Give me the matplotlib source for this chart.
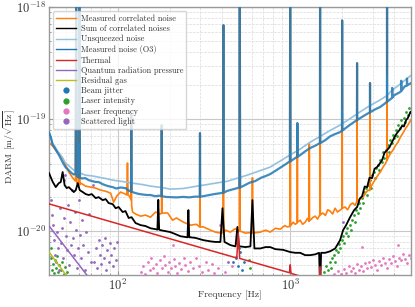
import numpy as np
import matplotlib
matplotlib.use("Agg")
import matplotlib.pyplot as plt
from matplotlib.lines import Line2D

plt.rcParams['font.family'] = 'serif'
plt.rcParams['font.serif'] = ['cmr10']
plt.rcParams['mathtext.fontset'] = 'cm'
plt.rcParams['axes.formatter.use_mathtext'] = True

scale = 1e-20  # all ASD values below are in units of 1e-20 m/sqrt(Hz)

# Measured correlated noise (orange)
corr_f = [40, 42.1, 43.8, 45.6, 48.0, 50, 52.1, 55, 57.0, 57.5, 58.0, 59.5, 60, 60.5, 61.1, 65.3,
          69.8, 74.6, 79.8, 85.2, 91.1, 94.8, 98.7, 104, 111, 113, 114, 115, 117, 119.5, 120,
          120.5, 122, 127, 136, 145, 155, 166, 177, 179.5, 180, 180.5, 195, 208, 219, 241, 264,
          286, 299, 300, 301, 314, 345, 368, 394, 408, 410, 412, 421, 450, 480, 500, 507, 510,
          513, 550, 600, 604, 608, 672, 720, 766, 820, 876, 930, 960, 995, 1000, 1005, 1040,
          1069, 1097, 1100, 1103, 1142, 1180, 1220, 1260, 1287, 1290, 1293, 1305, 1350, 1395,
          1440, 1485, 1490, 1495, 1545, 1600, 1650, 1703, 1760, 1820, 1880, 1945, 1995, 2000,
          2005, 2080, 2150, 2230, 2300, 2380, 2435, 2440, 2445, 2472, 2560, 2643, 2740, 2825,
          2895, 2900, 2905, 2960, 3020, 3120, 3225, 3340, 3448, 3560, 3635, 3640, 3645, 3684,
          3800, 3938, 4070, 4208, 4350, 4500, 4650, 4806, 5000]
corr = [6.2, 5.74, 5.28, 4.97, 4.49, 3.88, 3.37, 2.97, 2.8, 150, 2.7, 2.57, 150, 2.6, 2.68, 2.52,
        2.47, 2.42, 2.32, 2.27, 2.18, 1.81, 2.05, 2.23, 2.14, 2.1, 4.05, 2.1, 2.05, 1.9, 11,
        1.7, 1.48, 1.42, 1.36, 1.39, 1.33, 1.48, 1.42, 1.45, 8.8, 1.45, 1.45, 1.25, 1.31, 1.20,
        1.13, 1.15, 1.09, 7.5, 1.09, 1.09, 1.02, 0.98, 0.96, 0.97, 69, 0.97, 1.02, 0.98, 1.05,
        1.02, 1.0, 150, 1.0, 0.96, 0.97, 3.0, 0.96, 0.98, 1.02, 0.98, 1.06, 1.04, 1.12, 1.09,
        1.1, 150, 1.12, 1.2, 1.15, 1.18, 9.2, 1.2, 1.25, 1.15, 1.20, 1.3, 1.22, 6.0, 1.25,
        1.25, 1.32, 1.36, 1.28, 1.4, 150, 1.4, 1.45, 1.38, 1.55, 1.51, 1.42, 1.6, 1.48, 1.54,
        1.58, 76, 1.6, 1.64, 1.55, 1.72, 1.78, 1.7, 1.85, 31.6, 1.85, 1.89, 1.95, 2.01, 2.2,
        2.32, 2.3, 21, 2.4, 2.55, 2.68, 2.9, 3.16, 3.4, 3.73, 4.0, 4.3, 150, 4.3, 4.49, 4.9,
        5.28, 5.8, 6.22, 6.9, 7.5, 8.2, 8.84, 9.8]

# Sum of correlated noises (black)
sum_f = [40, 42.1, 43.8, 45.6, 46.8, 48.0, 49.3, 50.7, 52.1, 54.3, 55.7, 57.2, 58.7, 60.3, 62.8,
         65.3, 68.0, 70.8, 74.6, 77.6, 81.9, 85.2, 88.7, 93.6, 97.4, 101.3, 106.9, 111, 115.8,
         120.5, 127, 136, 145, 155, 166, 170, 172, 174, 177, 189, 202, 216, 231, 254, 257, 260,
         264, 282, 314, 345, 368, 394, 405, 416, 450, 482, 494, 505, 514, 550, 588, 604, 620,
         672, 718, 766, 819, 910, 1000, 1069, 1142, 1220, 1305, 1395, 1470, 1490, 1510, 1594,
         1703, 1822, 1945, 2025, 2108, 2222, 2346, 2442, 2530, 2610, 2700, 2790, 2880, 2981,
         3080, 3185, 3300, 3404, 3520, 3637, 3760, 3887, 4020, 4155, 4300, 4440, 4560, 4692,
         4800, 4940, 5000]
sum_corr = [3.3, 2.74, 2.47, 2.68, 2.74, 3.37, 2.57, 2.42, 2.47, 2.32, 2.23, 2.32, 2.68, 2.32,
            2.23, 2.14, 2.10, 2.14, 1.97, 2.01, 1.89, 1.93, 1.78, 1.74, 1.60, 1.64, 1.48, 1.51,
            1.31, 1.33, 1.18, 1.13, 1.11, 1.06, 1.04, 1.03, 1.9, 1.03, 1.02, 1.0, 0.98, 0.94, 0.90,
            0.88, 1.54, 0.88, 0.88, 0.87, 0.83, 0.81, 0.80, 0.80, 1.60, 0.80, 0.75, 0.73, 1.09,
            0.73, 0.73, 0.72, 0.73, 1.89, 0.70, 0.70, 0.72, 0.72, 0.69, 0.68, 0.65, 0.64, 0.64,
            0.61, 0.61, 0.62, 0.64, 0.30, 0.64, 0.64, 0.66, 0.70, 0.83, 1.02, 1.13, 1.33, 1.54,
            1.64, 1.95, 2.05, 2.5, 2.47, 3.0, 2.97, 3.6, 3.73, 4.0, 4.3, 5.0, 5.28, 5.6, 6.22, 6.9,
            7.5, 8.0, 8.66, 8.6, 9.79, 10.2, 11.3, 11.6]

# Unsqueezed noise (light blue)
unsq_f = [40, 42, 45.6, 50, 55.7, 59.5, 60, 60.5, 65, 72, 77.6, 85, 93.6, 105, 119.5, 120, 120.5,
          122, 140, 155, 180, 202, 240, 280, 299, 300, 301, 314, 380, 430, 494, 560, 628, 700,
          766, 870, 1000, 1097, 1100, 1103, 1142, 1300, 1490, 1700, 1945, 1995, 2000, 2005, 2200,
          2540, 2900, 3313, 3635, 3640, 3645, 3800, 4326, 5000]
unsq = [7.6, 6.1, 5.0, 4.05, 3.5, 3.3, 6.0, 3.3, 3.16, 3.1, 3.03, 2.95, 2.85, 2.78, 2.7, 4.0, 2.7,
        2.68, 2.6, 2.52, 2.45, 2.37, 2.4, 2.5, 2.55, 3.0, 2.55, 2.57, 2.7, 2.78, 2.97, 3.15, 3.35,
        3.55, 3.73, 4.2, 4.8, 5.2, 9.2, 5.2, 5.4, 6.2, 7.0, 7.9, 8.84, 9.1, 12, 9.1, 10.0, 11.6,
        13.2, 14.8, 16.2, 25, 16.2, 17.5, 20.5, 24.5]

# Measured noise (O3) (blue)
meas_f = [40, 41, 42, 43, 44.5, 45.6, 47, 48.5, 50, 52, 54, 55.7, 57, 57.5, 58, 59.5, 60, 60.5,
          62, 65, 68, 71, 74, 77.6, 82, 86, 90, 93.6, 98, 104, 111, 116, 119.5, 120, 120.5, 125,
          132, 140, 148, 155, 165, 175, 179.5, 180, 180.5, 190, 202, 220, 240, 260, 280, 299,
          300, 301, 314, 340, 370, 394, 408, 410, 412, 430, 460, 494, 507, 510, 513, 540, 580,
          628, 680, 720, 766, 820, 880, 940, 995, 1000, 1005, 1060, 1097, 1100, 1103, 1142, 1220,
          1300, 1400, 1485, 1490, 1495, 1600, 1700, 1800, 1945, 1995, 2000, 2005, 2200, 2435,
          2440, 2445, 2540, 2700, 2895, 2900, 2905, 3100, 3313, 3500, 3635, 3640, 3645, 3800,
          3895, 3900, 3905, 4000, 4326, 4395, 4400, 4405, 4600, 4745, 4750, 4755, 5000]
meas = [7.6, 6.9, 5.9, 5.6, 5.1, 4.8, 4.4, 4.0, 3.7, 3.5, 3.3, 3.2, 3.25, 150, 3.1, 3.0, 150, 3.0,
        2.95, 2.97, 2.85, 2.8, 2.75, 2.74, 2.62, 2.55, 2.5, 2.47, 2.4, 2.45, 2.42, 2.3, 2.25, 11,
        2.25, 2.2, 2.15, 2.12, 2.1, 2.10, 2.05, 2.07, 2.05, 8.8, 2.05, 2.02, 2.01, 2.0, 2.02,
        2.0, 2.03, 2.03, 7.5, 2.03, 2.05, 2.1, 2.15, 2.18, 2.2, 69, 2.2, 2.28, 2.35, 2.42, 2.45,
        150, 2.45, 2.55, 2.7, 2.8, 3.0, 3.1, 3.23, 3.45, 3.7, 3.95, 4.2, 150, 4.2, 4.45, 4.6,
        9.2, 4.6, 4.77, 5.15, 5.5, 5.8, 6.1, 150, 6.1, 6.5, 7.0, 7.3, 7.65, 7.9, 76, 7.9, 8.8,
        9.8, 31.6, 9.8, 10.2, 10.8, 11.5, 21, 11.5, 12.2, 12.8, 13.6, 14.3, 150, 14.3, 15.0,
        15.5, 19, 15.5, 16.3, 17.4, 17.8, 22, 17.8, 19.5, 20.0, 23, 20.0, 20.9]

# Thermal (red)
therm_f = [40, 490, 500, 510, 990, 1000, 1010, 1480, 1490, 1500, 5000]
therm = [1.75, 0.575, 0.96, 0.57, 0.425, 0.50, 0.42, 0.35, 0.48, 0.35, 0.205]

# Quantum radiation pressure (purple) and residual gas (olive)
qrp_f = [40, 100]
qrp = [1.114, 0.178]
gas_f = [40, 60]
gas = [0.652, 0.279]

# Beam jitter points
jit_f = [468, 486, 500, 514, 528, 494, 543, 507]
jit = [0.53, 0.57, 0.49, 0.65, 0.45, 0.78, 0.53, 0.71]

# Laser intensity points
int_f = [41.0, 41.6, 42.1, 42.7, 43.3, 43.8, 44.4, 45.0, 45.6, 46.8, 47.4, 48.7, 49.3, 50.7, 41.0,
         580, 588,
         1573, 1615, 1660, 1703, 1726, 1750, 1796, 1820, 1845, 1894, 1920, 1945, 1998, 2025, 2052,
         2108, 2135, 2163, 2222, 2252, 2282, 2344, 2376, 2408, 2472, 2506, 2540, 2608, 2643, 2679,
         2750, 2787, 2825, 2900, 2940, 2980, 3060, 3100, 3140, 3225, 3270, 3313, 3403, 3448, 3493,
         3589, 3684, 3733, 3783, 3886, 3938, 3990, 4098, 4150, 4208, 4322, 4380, 4437, 4558, 4620,
         4684, 4806, 4870, 4940]
intensity = [0.57, 0.45, 0.51, 0.42, 0.55, 0.47, 0.60, 0.43, 0.50, 0.45, 0.53, 0.41, 0.48, 0.43,
             0.71, 0.55, 0.47,
             0.43, 0.49, 0.45, 0.53, 0.47, 0.57, 0.61, 0.53, 0.68, 0.65, 0.76, 0.71, 0.83, 0.90,
             0.78, 0.96, 1.06, 0.90, 1.13, 1.02, 1.25, 1.39, 1.20, 1.54, 1.45, 1.78, 1.60, 1.97,
             1.78, 2.23, 2.42, 2.10, 2.57, 2.85, 2.42, 3.16, 3.37, 2.97, 3.65, 3.88, 3.50, 4.30,
             4.13, 5.07, 4.49, 5.28, 5.86, 5.07, 6.5, 6.1, 7.2, 6.77, 8.0, 7.05, 8.8, 8.3, 9.8,
             8.8, 10.2, 9.4, 11.55, 10.9, 12.5, 11.55]

# Laser frequency points
freq_f = [136, 141, 145, 149, 153, 157, 161, 166, 170, 175, 180, 185, 189, 195, 199, 205, 211, 216,
          222, 228, 234, 241, 247, 257, 264, 275, 286, 298, 310, 323, 336, 350, 363, 208, 394, 383,
          420, 462,
          1796, 1894, 1970, 2052, 2108, 2192, 2252, 2313, 2376, 2440, 2506, 2574, 2643, 2714, 2787,
          2862, 2940, 3020, 3100, 3185, 3270, 3358, 3448, 3541, 3637, 3733, 3836, 3938, 4045, 4150,
          4265, 4380, 4500, 4620, 4745, 4870, 5000, 2608, 4208]
freq_noise = [0.43, 0.49, 0.41, 0.53, 0.45, 0.57, 0.47, 0.51, 0.42, 0.55, 0.47, 0.60, 0.50, 0.43,
              0.53, 0.47, 0.56, 0.49, 0.42, 0.52, 0.46, 0.57, 0.50, 0.44, 0.53, 0.47, 0.57, 0.49,
              0.43, 0.53, 0.45, 0.51, 0.42, 0.75, 1.13, 0.47, 0.43, 0.49,
              0.41, 0.44, 0.41, 0.46, 0.42, 0.49, 0.44, 0.47, 0.42, 0.51, 0.45, 0.49, 0.44, 0.52,
              0.47, 0.53, 0.48, 0.55, 0.50, 0.45, 0.54, 0.50, 0.57, 0.52, 0.47, 0.56, 0.52, 0.60,
              0.54, 0.49, 0.58, 0.55, 0.62, 0.56, 0.52, 0.61, 0.57, 0.72, 0.75]

# Scattered light points
scat_f = [41.0, 41.6, 42.1, 42.7, 43.3, 43.8, 44.4, 45.0, 45.6, 46.2, 46.8, 47.4, 48.0, 48.7, 48.7,
          49.3, 50.0, 50.7, 51.3, 52.1, 52.8, 53.5, 54.3, 55.0, 55.7, 56.5, 57.2, 58.0, 58.7, 59.5,
          60.3, 61.1, 62.0, 62.8, 64.5, 65.3, 67.2, 68.0, 69.8, 71.7,
          72.6, 74.6, 75.6, 77.6, 78.7, 79.8, 80.8, 83.0, 84.1, 85.2, 86.4, 88.7, 89.9, 91.1, 93.6,
          94.8, 97.4, 98.7, 2025, 482, 437]
scat = [1.89, 1.39, 1.13, 0.83, 0.61, 0.53, 0.98, 0.71, 0.45, 1.60, 0.78, 1.06, 0.57, 2.85, 1.31,
        3.16, 0.90, 0.68, 1.71, 0.50, 1.21, 0.75, 2.32, 0.87, 0.61, 1.48, 1.02, 0.47, 0.71, 1.89,
        0.92, 0.57, 1.25, 0.75, 0.45, 0.98, 0.65, 1.43, 0.53, 2.57,
        0.53, 0.71, 0.47, 0.83, 0.61, 0.51, 0.75, 0.57, 0.87, 0.45, 0.68, 0.53, 0.78, 0.61, 0.49,
        0.71, 0.55, 0.80, 1.2, 0.59, 0.53]

fig = plt.figure(figsize=(4.15, 3.07), dpi=100)
ax = fig.add_axes([0.118, 0.104, 0.872, 0.873])

def asd(v):
    return np.array(v) * scale

ms = 4
ax.scatter(jit_f, asd(jit), s=ms, color='#1f77b4', lw=0, zorder=1)
ax.scatter(int_f, asd(intensity), s=ms, color='#2ca02c', lw=0, zorder=1)
ax.scatter(freq_f, asd(freq_noise), s=ms, color='#e377c2', lw=0, zorder=1)
ax.scatter(scat_f, asd(scat), s=ms, color='#9467bd', lw=0, zorder=1)

ax.plot(corr_f, asd(corr), color='#ff7f0e', lw=1.2, zorder=2)
ax.plot(sum_f, asd(sum_corr), color='black', lw=1.3, zorder=3)
ax.plot(unsq_f, asd(unsq), color='#94c1e0', lw=1.2, zorder=4)
ax.plot(meas_f, asd(meas), color='#1f77b4', lw=1.6, alpha=0.85, zorder=5)
ax.plot(therm_f, asd(therm), color='#d62728', lw=1.1, zorder=3)
ax.plot(qrp_f, asd(qrp), color='#9467bd', lw=1.1, zorder=3)
ax.plot(gas_f, asd(gas), color='#bcbd22', lw=1.1, zorder=3)

ax.set_xscale('log')
ax.set_yscale('log')
ax.set_xlim(40, 5000)
ax.set_ylim(4.05e-21, 1e-18)

ax.grid(True, which='major', color='#c8c8c8', lw=0.8, ls='-')
ax.grid(True, which='minor', color='#dadada', lw=0.5, ls='--')
ax.set_axisbelow(True)
for sp in ax.spines.values():
    sp.set_color('#999999')
    sp.set_linewidth(1.0)
ax.tick_params(which='both', direction='in', colors='#999999', labelcolor='#333333',
               labelsize=9, pad=2)
ax.tick_params(which='major', length=3)
ax.tick_params(which='minor', length=1.5)

ax.set_xlabel('Frequency [Hz]', fontsize=7, color='#333333')
ax.set_ylabel(r'DARM [m/$\sqrt{\mathrm{Hz}}$]', fontsize=7, color='#333333')
ax.xaxis.set_label_coords(0.5, -0.058)
ax.yaxis.set_label_coords(-0.088, 0.48)

handles = [
    Line2D([], [], color='#ff7f0e', lw=1.0),
    Line2D([], [], color='black', lw=1.0),
    Line2D([], [], color='#94c1e0', lw=1.0),
    Line2D([], [], color='#1f77b4', lw=1.0),
    Line2D([], [], color='#d62728', lw=1.0),
    Line2D([], [], color='#9467bd', lw=1.0),
    Line2D([], [], color='#bcbd22', lw=1.0),
    Line2D([], [], color='#1f77b4', lw=0, marker='o', ms=3.5),
    Line2D([], [], color='#2ca02c', lw=0, marker='o', ms=3.5),
    Line2D([], [], color='#e377c2', lw=0, marker='o', ms=3.5),
    Line2D([], [], color='#9467bd', lw=0, marker='o', ms=3.5),
]
labels = ['Measured correlated noise', 'Sum of correlated noises', 'Unsqueezed noise',
          'Measured noise (O3)', 'Thermal', 'Quantum radiation pressure', 'Residual gas',
          'Beam jitter', 'Laser intensity', 'Laser frequency', 'Scattered light']
leg = ax.legend(handles, labels, loc='upper left', fontsize=6, framealpha=0.8,
                labelspacing=0.22, handlelength=2.3, handletextpad=0.6, borderpad=0.4)
for t in leg.get_texts():
    t.set_color('#333333')

fig.savefig('out.png', dpi=100)
